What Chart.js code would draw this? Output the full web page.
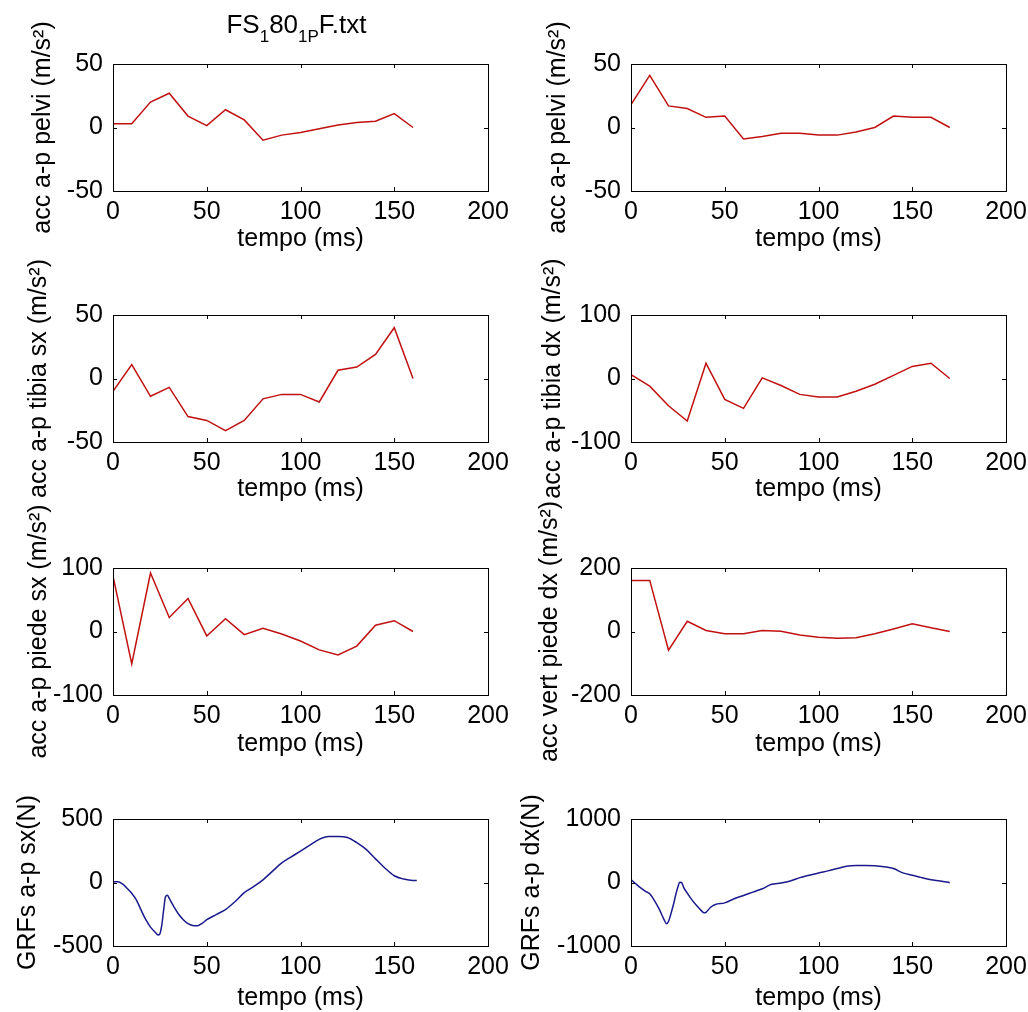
<!DOCTYPE html>
<html>
<head>
<meta charset="utf-8">
<title>FS1801PF.txt</title>
<script src="https://cdn.jsdelivr.net/npm/chart.js@4.4.1/dist/chart.umd.min.js"></script>
<style>
  body { margin: 0; background: #fff; }
  #fig { position: relative; width: 1028px; height: 1012px; overflow: hidden; background: #fff; }
  #fig canvas { position: absolute; }
</style>
</head>
<body>
<div id="fig"></div>
<script>
// tempo (ms) - campioni ogni 10 ms
const tempoSx = [0, 10, 20, 30, 40, 50, 60, 70, 80, 90, 100, 110, 120, 130, 140, 150, 160];
const tempoDx = [0, 10, 20, 30, 40, 50, 60, 70, 80, 90, 100, 110, 120, 130, 140, 150, 160, 170];

// accelerazioni (m/s^2)
const accPelviSx = [3, 3, 20, 27, 9, 1.5, 14, 6, -10, -6, -4, -1, 2, 4, 5, 11, 0];
const accPelviDx = [18, 41, 17, 15, 8, 9, -9, -7, -4.5, -4.5, -6, -6, -3.5, 0, 9, 8, 8, 0];
const accTibiaSx = [-10, 11, -14, -7, -30, -33, -41, -33, -16, -12.5, -12.5, -18.5, 6.5, 9, 19, 40, 0];
const accTibiaDx = [6, -12, -43, -67, 24, -33, -47, 1, -11, -25, -29, -29, -20, -9, 5, 19, 24, 0];
const accPiedeSx = [87, -51, 92, 22, 52, -7, 20, -5, 5, -4, -15, -29, -37, -23, 10, 17, 0];
const accVertPiedeDx = [161, 161, -59, 32, 3, -7, -7, 3, 1, -11, -18, -21, -20, -7, 8, 24, 12, 0];

// forze di reazione al suolo (N)
const tempoGrfSx = [0, 2.5, 5, 7.5, 10, 12.5, 15, 17.5, 20, 22.5, 24, 25, 26, 27, 28, 29, 30, 32.5, 35, 37.5, 40, 42.5, 45, 47.5, 50,
  55, 60, 65, 70, 75, 80, 85, 90, 95, 100, 105, 110, 115, 120, 125, 130, 135, 140, 145, 150, 155, 160, 162];
const grfSx = [5, 5, -11, -45, -85, -138, -218, -293, -351, -391, -413, -404, -338, -218, -112, -100, -125, -191, -250, -293, -324, -338, -340, -322, -293,
  -253, -213, -152, -80, -32, 21, 88, 154, 202, 247, 295, 340, 362, 362, 354, 314, 261, 186, 114, 53, 27, 16, 16];

const tempoGrfDx = [0, 2.5, 5, 7.5, 10, 12.5, 15, 17.5, 19, 20, 21, 22.5, 24, 25, 26, 27, 28, 30, 32.5, 35, 37.5, 39, 40, 42.5, 45,
  50, 55, 60, 65, 70, 75, 80, 85, 90, 95, 100, 105, 110, 115, 120, 125, 130, 135, 140, 145, 150, 155, 160, 165, 170];
const grfDx = [45, -19, -82, -135, -178, -284, -416, -576, -650, -613, -523, -363, -178, -72, 5, 0, -72, -167, -273, -363, -443, -478, -469, -390, -347,
  -321, -257, -204, -151, -98, -29, -8, 24, 77, 114, 151, 183, 220, 257, 268, 268, 263, 247, 220, 151, 114, 77, 45, 24, -3];

// titolo con pedici
const titoloParti = [['FS', false], ['1', true], ['80', false], ['1P', true], ['F.txt', false]];

const FONT = '"Liberation Sans", Arial, Helvetica, sans-serif';
const ROSSO = '#c01010';
const BLU = '#1a1a8c';

const W = 120, PT = 90, PR = 30, PB = 90;
const PLOT_W = 375, PLOT_H = 127;
const colLeft = [113, 631];
const rowTop = [64, 315, 568, 819];
const xTitleGap = [48, 47, 49, 52];

const panels = [
  { t: tempoSx, v: accPelviSx, label: 'acc a-p pelvi (m/s²)', lim: 50, color: ROSSO, col: 0, row: 0, gap: 70 },
  { t: tempoDx, v: accPelviDx, label: 'acc a-p pelvi (m/s²)', lim: 50, color: ROSSO, col: 1, row: 0, gap: 73 },
  { t: tempoSx, v: accTibiaSx, label: 'acc a-p tibia sx (m/s²)', lim: 50, color: ROSSO, col: 0, row: 1, gap: 74 },
  { t: tempoDx, v: accTibiaDx, label: 'acc a-p tibia dx (m/s²)', lim: 100, color: ROSSO, col: 1, row: 1, gap: 78 },
  { t: tempoSx, v: accPiedeSx, label: 'acc a-p piede sx (m/s²)', lim: 100, color: ROSSO, col: 0, row: 2, gap: 74 },
  { t: tempoDx, v: accVertPiedeDx, label: 'acc vert piede dx (m/s²)', lim: 200, color: ROSSO, col: 1, row: 2, gap: 81 },
  { t: tempoGrfSx, v: grfSx, label: 'GRFs a-p sx(N)', lim: 500, color: BLU, col: 0, row: 3, gap: 85, smooth: true },
  { t: tempoGrfDx, v: grfDx, label: 'GRFs a-p dx(N)', lim: 1000, color: BLU, col: 1, row: 3, gap: 99, smooth: true }
];

// cornice stile matlab, tacche interne ed etichetta asse y
const riquadro = {
  id: 'riquadro',
  afterDraw(chart, args, opts) {
    const { ctx, chartArea: a, scales: { x, y } } = chart;
    ctx.save();
    ctx.strokeStyle = '#000';
    ctx.lineWidth = 1;
    ctx.strokeRect(Math.round(a.left) + 0.5, Math.round(a.top) + 0.5, Math.round(a.width), Math.round(a.height));
    ctx.beginPath();
    x.ticks.forEach(tk => {
      const px = Math.round(x.getPixelForValue(tk.value)) + 0.5;
      ctx.moveTo(px, a.top); ctx.lineTo(px, a.top + 4);
      ctx.moveTo(px, a.bottom); ctx.lineTo(px, a.bottom - 4);
    });
    y.ticks.forEach(tk => {
      const py = Math.round(y.getPixelForValue(tk.value)) + 0.5;
      ctx.moveTo(a.left, py); ctx.lineTo(a.left + 4, py);
      ctx.moveTo(a.right, py); ctx.lineTo(a.right - 4, py);
    });
    ctx.stroke();

    ctx.translate(a.left - opts.gap, (a.top + a.bottom) / 2);
    ctx.rotate(-Math.PI / 2);
    ctx.font = '25px ' + FONT;
    ctx.fillStyle = '#000';
    ctx.textAlign = 'center';
    ctx.textBaseline = 'middle';
    ctx.fillText(opts.label, 0, 0);
    ctx.restore();
  }
};

const titolo = {
  id: 'titolo',
  afterDraw(chart, args, opts) {
    if (!opts.show) return;
    const { ctx, chartArea: a } = chart;
    ctx.save();
    ctx.fillStyle = '#000';
    ctx.textBaseline = 'alphabetic';
    ctx.textAlign = 'left';
    const big = '26px ' + FONT, small = '17px ' + FONT;
    let tot = 0;
    titoloParti.forEach(p => { ctx.font = p[1] ? small : big; tot += ctx.measureText(p[0]).width; });
    let cx = (a.left + a.right) / 2 - 4 - tot / 2;
    const base = a.top - 31;
    titoloParti.forEach(p => {
      ctx.font = p[1] ? small : big;
      ctx.fillText(p[0], cx, p[1] ? base + 9 : base);
      cx += ctx.measureText(p[0]).width;
    });
    ctx.restore();
  }
};

const fig = document.getElementById('fig');

panels.forEach(function (p, i) {
  const c = document.createElement('canvas');
  c.width = W + PLOT_W + PR;
  c.height = PT + PLOT_H + PB;
  c.style.left = (colLeft[p.col] - W) + 'px';
  c.style.top = (rowTop[p.row] - PT) + 'px';
  fig.appendChild(c);

  new Chart(c, {
    type: 'line',
    data: {
      datasets: [{
        data: p.t.map((t, k) => ({ x: t, y: p.v[k] })),
        borderColor: p.color,
        borderWidth: 1.5,
        pointRadius: 0,
        fill: false,
        tension: 0,
        cubicInterpolationMode: p.smooth ? 'monotone' : 'default'
      }]
    },
    options: {
      responsive: false,
      animation: false,
      devicePixelRatio: 1,
      layout: { padding: { top: PT, right: PR, bottom: 0, left: 0 } },
      plugins: {
        legend: { display: false },
        tooltip: { enabled: false },
        riquadro: { label: p.label, gap: p.gap },
        titolo: { show: i === 0 }
      },
      scales: {
        x: {
          type: 'linear',
          min: 0,
          max: 200,
          grid: { display: false, drawTicks: false },
          border: { display: false },
          ticks: {
            stepSize: 50,
            padding: 6,
            maxRotation: 0,
            autoSkip: false,
            color: '#000',
            font: { family: FONT, size: 25 },
            callback: v => String(v)
          },
          title: {
            display: true,
            text: 'tempo (ms)',
            color: '#000',
            font: { family: FONT, size: 25 },
            padding: { top: 0, bottom: PB - 15 - xTitleGap[p.row] }
          },
          afterFit: s => { s.height = PB; }
        },
        y: {
          min: -p.lim,
          max: p.lim,
          grid: { display: false, drawTicks: false },
          border: { display: false },
          ticks: {
            stepSize: p.lim,
            padding: 10,
            color: '#000',
            font: { family: FONT, size: 25 },
            callback: v => String(v)
          },
          afterFit: s => { s.width = W; }
        }
      }
    },
    plugins: [riquadro, titolo]
  });
});
</script>
</body>
</html>
